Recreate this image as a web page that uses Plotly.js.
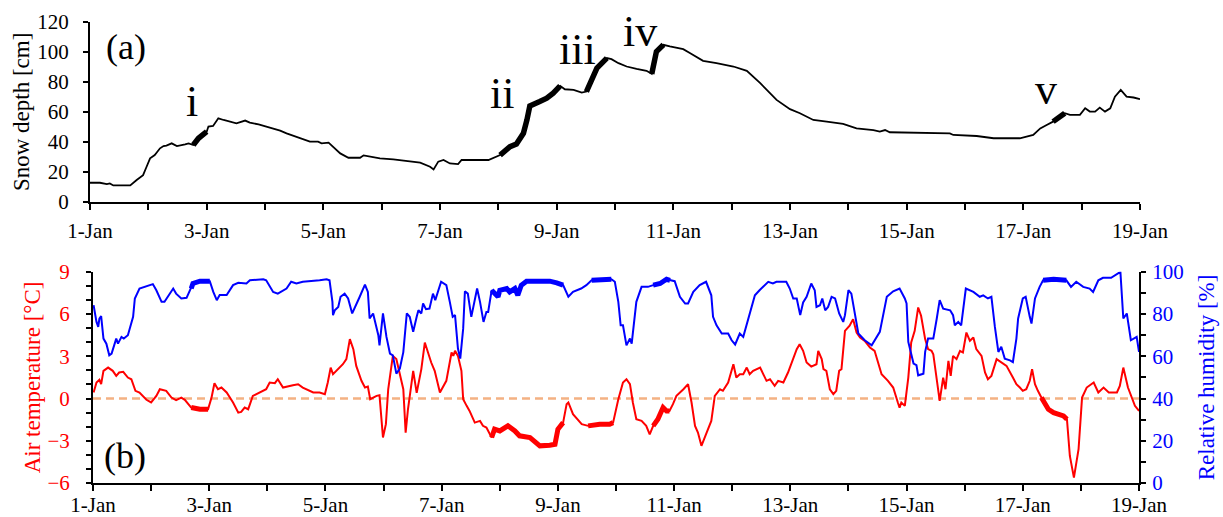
<!DOCTYPE html>
<html>
<head>
<meta charset="utf-8">
<script src="https://cdn.plot.ly/plotly-3.0.1.min.js"></script>
<style>
html, body { margin: 0; padding: 0; background: #ffffff; }
#chart { width: 1223px; height: 517px; }
</style>
</head>
<body>
<div id="chart"></div>
<script>
// ---- tick labels (days since 1-Jan) ----
const dayTickVals = [0, 2, 4, 6, 8, 10, 12, 14, 16, 18];
const dayTickLabels = ['1-Jan', '3-Jan', '5-Jan', '7-Jan', '9-Jan', '11-Jan', '13-Jan', '15-Jan', '17-Jan', '19-Jan'];

// ---- (a) snow depth ----
const snowDay = [0,0.17,0.29,0.34,0.4,0.69,0.8,0.91,0.97,1.03,1.11,1.2,1.26,1.31,1.4,1.49,1.63,1.69,1.77,1.86,2.0,2.03,2.11,2.2,2.29,2.4,2.51,2.66,2.74,2.89,3.03,3.14,3.26,3.37,3.49,3.63,3.77,3.91,3.97,4.09,4.17,4.29,4.43,4.63,4.69,4.8,4.97,5.2,5.49,5.66,5.83,5.89,5.97,6.06,6.17,6.31,6.37,6.83,7.03,7.2,7.31,7.43,7.49,7.54,7.71,7.83,7.94,8.06,8.14,8.29,8.43,8.51,8.6,8.69,8.86,8.94,9.06,9.2,9.37,9.54,9.63,9.66,9.71,9.83,9.94,10.17,10.29,10.51,10.74,11.03,11.26,11.49,11.77,12.0,12.17,12.4,12.63,12.91,13.14,13.43,13.54,13.63,13.71,14.17,14.74,14.8,15.2,15.49,15.94,16.17,16.29,16.4,16.51,16.71,16.8,16.97,17.06,17.14,17.23,17.31,17.4,17.49,17.57,17.67,17.77,17.89,18.0];
const snowDepth = [12.7,12.7,11.8,12.3,10.9,10.9,14.5,17.8,23.4,29,31.2,35.7,37.2,37.5,39,37.2,38.4,39,37.9,42.4,46.8,50.2,50.6,55.7,54.6,53.5,52.4,54.2,52.8,51.7,50.2,49,47.5,45.7,43.9,41.7,40.1,40.1,39,39.5,36.8,32.3,29.4,29.4,31,30.1,29,28.3,27.2,26.1,23.4,21.6,26.8,27.9,25.6,25.2,27.9,27.9,31.2,36.8,38.6,45.7,54.6,64,66.9,69.1,72.5,77.4,75.1,74.7,72.9,73.6,81.4,89.2,95.9,95.2,92.5,90.3,88.7,87.4,85.4,92.5,100.3,104.8,103.7,101.9,99.2,94.1,92.5,90.3,87.4,79.2,68,61.8,59.1,54.6,53.5,52,49,47.9,46.8,47.9,46.4,46.2,45.7,44.6,43.9,42.4,42.4,44.6,49,51.3,53.5,59.1,58,58,62.4,60.2,60.2,62.9,60.2,62.4,70.2,74.7,70.2,69.6,68.5];
const snowHighlight = [[1.77, 2.0], [7.03, 8.1], [8.5, 8.9], [9.63, 9.9], [16.45, 16.72]];
const snowMarks = ['i', 'ii', 'iii', 'iv', 'v'];
const snowMarkDay = [1.75, 7.06, 8.36, 9.43, 16.39];
const snowMarkDepth = [66.7, 72.0, 101.5, 113.5, 74.7];

// ---- (b) air temperature ----
const tempDay = [0.01,0.06,0.11,0.14,0.18,0.26,0.34,0.4,0.45,0.52,0.6,0.66,0.73,0.8,0.92,1.0,1.09,1.15,1.26,1.35,1.43,1.52,1.58,1.69,1.84,1.98,2.04,2.09,2.15,2.21,2.3,2.41,2.5,2.55,2.61,2.67,2.75,2.87,2.98,3.04,3.13,3.18,3.27,3.44,3.53,3.61,3.79,3.9,3.99,4.04,4.09,4.13,4.19,4.25,4.3,4.36,4.42,4.48,4.53,4.62,4.68,4.73,4.77,4.88,4.93,4.99,5.04,5.08,5.16,5.22,5.27,5.34,5.38,5.42,5.51,5.57,5.65,5.71,5.82,5.88,5.97,6.08,6.17,6.2,6.23,6.28,6.34,6.37,6.43,6.48,6.57,6.66,6.71,6.77,6.86,6.91,7.0,7.14,7.26,7.34,7.52,7.63,7.69,7.86,7.95,8.0,8.09,8.15,8.18,8.26,8.41,8.52,8.72,8.89,8.95,9.04,9.12,9.18,9.24,9.29,9.35,9.44,9.52,9.58,9.64,9.72,9.81,9.87,9.92,9.98,10.04,10.16,10.24,10.3,10.36,10.41,10.47,10.56,10.64,10.7,10.79,10.84,10.93,11.02,11.07,11.13,11.19,11.25,11.3,11.36,11.48,11.59,11.65,11.73,11.79,11.88,11.96,12.11,12.16,12.22,12.28,12.36,12.45,12.48,12.54,12.57,12.62,12.68,12.74,12.79,12.84,12.88,12.94,13.02,13.08,13.14,13.2,13.28,13.37,13.45,13.57,13.68,13.77,13.85,13.88,13.91,13.97,14.03,14.08,14.14,14.2,14.25,14.32,14.37,14.43,14.46,14.52,14.57,14.63,14.67,14.72,14.76,14.8,14.86,14.92,14.97,15.03,15.09,15.15,15.2,15.29,15.35,15.4,15.46,15.55,15.63,15.72,15.83,15.89,15.95,16.0,16.06,16.12,16.16,16.21,16.26,16.32,16.44,16.53,16.7,16.76,16.81,16.88,16.96,17.02,17.1,17.22,17.3,17.39,17.48,17.62,17.67,17.73,17.81,17.87,17.93,18.0];
const tempVal = [0.43,1.14,1.33,1.02,1.97,2.2,1.97,1.61,1.85,1.9,1.49,1.37,0.55,0.43,-0.09,-0.28,0.19,0.66,0.55,0.07,-0.12,0.07,-0.09,-0.64,-0.76,-0.76,0.07,1.09,0.66,0.78,0.43,-0.28,-1.0,-0.95,-0.64,-0.76,0.19,0.43,0.66,1.14,1.09,1.37,0.78,0.95,1.02,0.78,0.43,0.43,0.31,1.14,2.2,1.73,1.97,2.2,2.44,2.8,4.22,3.51,2.32,1.26,0.78,0.85,-0.05,0.19,0.24,-2.77,-1.82,0.66,3.03,2.8,1.85,0.66,-2.42,-0.76,1.97,0.4,2.09,3.98,2.56,1.97,0.43,1.26,3.27,3.03,3.39,3.03,1.97,-0.05,-0.52,-0.88,-1.71,-1.59,-1.94,-2.06,-2.77,-2.18,-2.3,-1.94,-2.3,-2.65,-2.77,-3.13,-3.36,-3.32,-3.25,-2.18,-1.71,-0.4,-0.28,-1.11,-1.82,-1.94,-1.82,-1.82,-1.71,-0.05,1.14,1.37,1.02,-0.28,-1.47,-1.59,-1.94,-2.54,-1.94,-1.47,-0.64,-0.88,-0.88,-0.4,0.19,0.66,1.02,-0.28,-1.94,-2.42,-3.36,-2.42,-1.59,0.19,0.66,0.55,1.14,2.44,1.49,1.73,1.73,2.2,1.73,1.97,2.2,1.26,1.37,0.9,1.26,1.14,1.85,3.51,3.86,3.39,2.56,2.27,2.44,3.39,2.8,2.09,1.97,0.66,0.31,0.55,1.97,2.09,4.81,5.17,5.64,4.69,4.34,4.1,3.63,3.39,1.73,1.26,0.78,-0.28,-0.64,-0.28,-0.52,1.49,3.98,4.81,6.47,5.88,4.22,3.51,3.39,3.15,1.26,-0.17,1.49,0.66,2.68,1.61,3.03,2.8,3.39,3.27,4.69,4.1,4.34,3.51,3.03,1.85,1.37,1.61,2.8,2.56,2.32,1.49,1.02,0.78,0.55,0.66,1.26,2.09,1.02,0.55,0.07,-0.76,-1.0,-1.23,-1.47,-4.08,-5.62,-3.6,0.07,0.78,1.14,0.43,0.78,0.43,0.43,0.9,2.2,0.78,0.19,-0.52,-0.88];

// ---- (b) relative humidity ----
const rhDay = [0.01,0.06,0.09,0.11,0.14,0.18,0.23,0.28,0.32,0.37,0.4,0.43,0.49,0.53,0.6,0.69,0.72,0.8,0.89,0.98,1.03,1.09,1.18,1.23,1.32,1.38,1.43,1.52,1.61,1.69,1.72,1.84,2.01,2.07,2.13,2.18,2.3,2.41,2.5,2.64,2.7,2.93,2.98,3.1,3.18,3.33,3.41,3.5,3.61,3.9,4.02,4.07,4.12,4.13,4.16,4.22,4.26,4.33,4.39,4.46,4.53,4.59,4.68,4.73,4.76,4.82,4.91,4.93,4.99,5.05,5.11,5.16,5.22,5.28,5.34,5.4,5.45,5.51,5.57,5.6,5.65,5.68,5.73,5.79,5.85,5.89,5.99,6.08,6.14,6.19,6.23,6.28,6.32,6.37,6.4,6.45,6.51,6.61,6.66,6.72,6.77,6.8,6.86,6.91,6.97,7.0,7.12,7.17,7.26,7.31,7.37,7.46,7.86,7.98,8.09,8.18,8.26,8.4,8.49,8.58,8.92,8.98,9.04,9.08,9.12,9.18,9.24,9.27,9.35,9.44,9.55,9.64,9.76,9.87,9.93,10.01,10.1,10.19,10.24,10.33,10.44,10.55,10.64,10.67,10.73,10.82,10.93,10.99,11.05,11.13,11.19,11.27,11.39,11.47,11.62,11.7,11.76,11.93,11.99,12.05,12.11,12.17,12.22,12.28,12.36,12.42,12.45,12.51,12.55,12.6,12.65,12.71,12.77,12.84,12.91,12.94,13.0,13.05,13.11,13.17,13.28,13.4,13.54,13.66,13.77,13.88,13.97,14.0,14.03,14.12,14.17,14.2,14.29,14.32,14.37,14.46,14.52,14.57,14.63,14.75,14.8,14.83,14.89,14.94,15.02,15.15,15.26,15.32,15.4,15.46,15.52,15.58,15.63,15.69,15.78,15.83,15.89,15.92,16.0,16.05,16.12,16.15,16.21,16.29,16.35,16.53,16.75,16.83,16.92,17.04,17.15,17.21,17.3,17.38,17.52,17.64,17.68,17.73,17.79,17.86,17.96,18.0];
const rhVal = [84.2,76.3,73.9,77.9,79,68.4,66,60.5,61.3,65.2,68.4,66,69.2,68.4,70,78.7,87.4,92.1,92.9,94,94.2,91.3,85.8,85.8,89.7,92.1,89.7,87.4,87.7,92.1,94.5,95.6,95.6,90.5,86.6,89,89,93.7,94.8,94.5,96,96.5,96,90.5,89.7,92.1,95.3,94.5,95.3,96,96.5,96,85.8,79.5,81.8,83.4,88.2,89.7,87.4,80.3,85,88.2,94,90.5,77.9,80.3,70,65.2,80.3,69.2,61.3,60.5,51.8,54.2,62,80.3,78.7,71.6,78.7,81.8,80.3,85,82.3,82.6,89.7,86.6,95.3,93.7,85.8,78.7,79.5,63.7,58.9,73.1,90.8,89.7,78.7,92.1,85.8,76.3,81,81,91.3,89.7,88.2,91.3,92.1,90.5,92.1,88.9,93.7,95.6,95.6,94.8,93.7,88.2,90.5,92.1,93.7,96,96.5,95.3,85.8,74.7,74.7,65.2,68.4,66,85.8,92.9,92.9,93.7,94.5,96.5,96,95.6,88.2,85,85,90.5,93.7,95.3,88.9,78.7,74.7,70.8,70.8,67.6,65.6,70.8,69.2,77.1,88.9,91.3,95.3,94.5,95.3,95.3,92.1,87.4,87.4,79.5,85.5,88.2,94.5,91.3,83.4,84.2,87.4,81.8,83.4,88.2,87.4,80.3,76.3,79.5,91.3,89.7,80.3,70.8,67.6,65.2,71.6,88.2,90.8,92.1,87.4,85,66.8,56.6,55.8,51,51.8,62.1,68.4,68.4,77.9,86.6,82.6,81.8,79.5,74.7,76.3,74.7,92.1,90.5,88.2,88.9,87.4,88.2,73.9,62.1,64.5,58.9,58.1,57.3,68.4,77.9,87.4,88.2,78.7,75.5,87.4,92.9,96,96.5,96,92.9,95.3,92.9,92.1,90.5,96,97.2,97.2,99.2,100,77.9,80.3,67.6,69.2,62.1];
const metHighlight = [[1.69, 2.01], [6.86, 8.1], [8.5, 8.95], [9.62, 9.93], [16.32, 16.76]];

// ---- helpers ----
function highlightOnly(days, vals, intervals) {
  return vals.map((v, i) => intervals.some(r => days[i] >= r[0] && days[i] <= r[1]) ? v : null);
}

const FONT = '"Liberation Serif", "Times New Roman", serif';
const RED = '#ff0000';
const BLUE = '#0000ff';

const traces = [
  { x: snowDay, y: snowDepth, xaxis: 'x', yaxis: 'y', type: 'scatter', mode: 'lines',
    line: { color: '#000000', width: 1.8 }, hoverinfo: 'skip', showlegend: false },
  { x: snowDay, y: highlightOnly(snowDay, snowDepth, snowHighlight), xaxis: 'x', yaxis: 'y', type: 'scatter', mode: 'lines',
    connectgaps: false, line: { color: '#000000', width: 5.5 }, hoverinfo: 'skip', showlegend: false },
  { x: tempDay, y: tempVal, xaxis: 'x2', yaxis: 'y2', type: 'scatter', mode: 'lines',
    line: { color: RED, width: 2 }, hoverinfo: 'skip', showlegend: false },
  { x: tempDay, y: highlightOnly(tempDay, tempVal, metHighlight), xaxis: 'x2', yaxis: 'y2', type: 'scatter', mode: 'lines',
    connectgaps: false, line: { color: RED, width: 5 }, hoverinfo: 'skip', showlegend: false },
  { x: rhDay, y: rhVal, xaxis: 'x2', yaxis: 'y3', type: 'scatter', mode: 'lines',
    line: { color: BLUE, width: 2 }, hoverinfo: 'skip', showlegend: false },
  { x: rhDay, y: highlightOnly(rhDay, rhVal, metHighlight), xaxis: 'x2', yaxis: 'y3', type: 'scatter', mode: 'lines',
    connectgaps: false, line: { color: BLUE, width: 5 }, hoverinfo: 'skip', showlegend: false }
];

const tickFont = { family: FONT, size: 21, color: '#000000' };
function xAxis(domain, anchor, standoff) {
  return {
    domain: domain, anchor: anchor, range: [0, 18],
    tickmode: 'array', tickvals: dayTickVals, ticktext: dayTickLabels,
    showline: true, linecolor: '#000000', linewidth: 2,
    ticks: 'outside', ticklen: 6, tickwidth: 2, tickcolor: '#000000',
    minor: { tickmode: 'linear', tick0: 0, dtick: 1, ticks: 'outside', ticklen: 6, tickwidth: 2, tickcolor: '#000000', showgrid: false },
    showgrid: false, zeroline: false, tickfont: tickFont, ticklabelstandoff: standoff, fixedrange: true
  };
}

const annotations = snowMarks.map((t, i) => ({
  text: t, x: snowMarkDay[i], y: snowMarkDepth[i], xref: 'x', yref: 'y',
  showarrow: false, xanchor: 'center', yanchor: 'middle',
  font: { family: FONT, size: 44, color: '#000000' }
}));
annotations.push({ text: '(a)', x: 0.62, y: 103.5, xref: 'x', yref: 'y', showarrow: false,
  xanchor: 'center', yanchor: 'middle', font: { family: FONT, size: 36, color: '#000000' } });
annotations.push({ text: '(b)', x: 0.55, y: -4.07, xref: 'x2', yref: 'y2', showarrow: false,
  xanchor: 'center', yanchor: 'middle', font: { family: FONT, size: 36, color: '#000000' } });

const layout = {
  width: 1223, height: 517,
  margin: { l: 90, r: 83, t: 22, b: 34 },
  paper_bgcolor: '#ffffff', plot_bgcolor: 'rgba(0,0,0,0)',
  showlegend: false,
  font: { family: FONT, size: 21, color: '#000000' },
  xaxis: xAxis([0, 1], 'y', 3),
  xaxis2: xAxis([0.00286, 0.99905], 'y2', -4),
  yaxis: {
    domain: [0.61, 1], anchor: 'x', range: [0, 120], tickmode: 'linear', tick0: 0, dtick: 20,
    showline: true, linecolor: '#000000', linewidth: 2, ticks: 'outside', ticklen: 5, tickwidth: 2, tickcolor: '#000000',
    showgrid: false, zeroline: false, tickfont: tickFont, ticklabelstandoff: 10, fixedrange: true,
    title: { text: 'Snow depth [cm]', font: { family: FONT, size: 23, color: '#000000' }, standoff: 1 }
  },
  yaxis2: {
    domain: [0, 0.458], anchor: 'x2', range: [-6, 9], tickmode: 'linear', tick0: -6, dtick: 3,
    minor: { tickmode: 'linear', tick0: -6, dtick: 1, ticks: 'outside', ticklen: 5, tickwidth: 2, tickcolor: '#000000', showgrid: false },
    showline: true, linecolor: '#000000', linewidth: 2, ticks: 'outside', ticklen: 5, tickwidth: 2, tickcolor: '#000000',
    showgrid: false, zeroline: false, tickfont: { family: FONT, size: 21, color: RED }, ticklabelstandoff: 12, fixedrange: true,
    title: { text: 'Air temperature [°C]', font: { family: FONT, size: 23, color: RED }, standoff: 0 }
  },
  yaxis3: {
    overlaying: 'y2', side: 'right', anchor: 'x2', range: [0, 100], tickmode: 'linear', tick0: 0, dtick: 20,
    minor: { tickmode: 'linear', tick0: 0, dtick: 10, ticks: 'outside', ticklen: 5, tickwidth: 2, tickcolor: '#000000', showgrid: false },
    showline: true, linecolor: '#000000', linewidth: 2, ticks: 'outside', ticklen: 5, tickwidth: 2, tickcolor: '#000000',
    showgrid: false, zeroline: false, tickfont: { family: FONT, size: 21, color: BLUE }, ticklabelstandoff: 2, fixedrange: true,
    title: { text: 'Relative humidity [%]', font: { family: FONT, size: 23, color: BLUE }, standoff: 15 }
  },
  shapes: [{
    type: 'line', xref: 'x2', yref: 'y2', x0: 0, x1: 18, y0: 0, y1: 0, layer: 'below',
    line: { color: '#F4B183', width: 2.5, dash: '8px,5px' }
  }],
  annotations: annotations
};

Plotly.newPlot('chart', traces, layout, { displayModeBar: false, staticPlot: true });
</script>
</body>
</html>
